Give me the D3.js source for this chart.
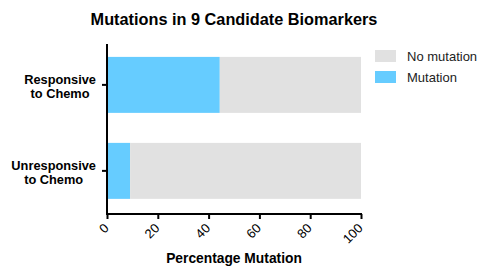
<!DOCTYPE html>
<html>
<head>
<meta charset="utf-8">
<script src="https://cdn.jsdelivr.net/npm/d3@7"></script>
<style>
  body { margin: 0; background: #fff; }
  text { font-family: "Liberation Sans", Arial, sans-serif; }
</style>
</head>
<body>
<div id="chart"></div>
<script>
var groups = ['Responsive to Chemo', 'Unresponsive to Chemo'];
var groupLines = [['Responsive', 'to Chemo'], ['Unresponsive', 'to Chemo']];
var mutation = [44.4, 9.1];
var noMutation = [55.6, 90.9];
var xTicks = [0, 20, 40, 60, 80, 100];
var seriesNames = ['No mutation', 'Mutation'];
var seriesColors = ['#e1e1e1', '#66ccff'];

var svg = d3.select('#chart').append('svg')
    .attr('width', 482)
    .attr('height', 266);

var plotL = 107, plotR = 361, plotT = 44, plotB = 214;

var x = d3.scaleLinear().domain([0, 100]).range([plotL, plotR]);
// bars roughly 57-113 and 143-199
var y = d3.scaleBand().domain(groups).range([plotT, plotB])
    .paddingInner(0.349).paddingOuter(0.163).align(0.46);

// stacked bars: mutation first, then no mutation
svg.selectAll('rect.mut')
    .data(groups)
    .enter().append('rect')
    .attr('x', x(0))
    .attr('y', function(d){ return y(d); })
    .attr('width', function(d, i){ return x(mutation[i]) - x(0); })
    .attr('height', y.bandwidth())
    .attr('fill', seriesColors[1]);

svg.selectAll('rect.nomut')
    .data(groups)
    .enter().append('rect')
    .attr('x', function(d, i){ return x(mutation[i]); })
    .attr('y', function(d){ return y(d); })
    .attr('width', function(d, i){ return x(mutation[i] + noMutation[i]) - x(mutation[i]); })
    .attr('height', y.bandwidth())
    .attr('fill', seriesColors[0]);

// x axis
var xAxis = svg.append('g')
    .attr('transform', 'translate(0,' + plotB + ')')
    .call(d3.axisBottom(x).tickValues(xTicks).tickSize(5).tickSizeOuter(0));
xAxis.select('.domain').attr('stroke-width', 2).attr('d', 'M' + (plotL - 1) + ',0H' + (plotR + 1));
xAxis.selectAll('.tick line').attr('stroke-width', 2);
xAxis.selectAll('.tick text')
    .attr('font-size', 13)
    .attr('font-family', '"Liberation Sans", Arial, sans-serif')
    .attr('fill', '#000')
    .attr('text-anchor', 'end')
    .attr('dy', null)
    .attr('y', 0)
    .attr('transform', 'translate(2,15) rotate(-45)');

// y axis
var yAxis = svg.append('g')
    .attr('transform', 'translate(' + plotL + ',0)')
    .call(d3.axisLeft(y).tickSize(5).tickSizeOuter(0).tickFormat(''));
yAxis.select('.domain').attr('stroke-width', 2).attr('d', 'M0,' + plotT + 'V' + plotB);
yAxis.selectAll('.tick line').attr('stroke-width', 2);

// y labels: block right aligned, lines centred in block
groups.forEach(function(g, i){
    var lines = groupLines[i];
    var cy = y(g) + y.bandwidth() / 2;
    var t = svg.append('g');
    var texts = lines.map(function(s, j){
        return t.append('text')
            .attr('y', cy + 6 + (j - (lines.length - 1) / 2) * 14)
            .attr('font-size', 12.8)
            .attr('font-weight', 'bold')
            .attr('text-anchor', 'middle')
            .text(s);
    });
    var w = d3.max(texts, function(tx){ return tx.node().getComputedTextLength(); });
    texts.forEach(function(tx){ tx.attr('x', 96 - w / 2); });
});

// title
svg.append('text')
    .attr('x', 234).attr('y', 25)
    .attr('text-anchor', 'middle')
    .attr('font-size', 16.3)
    .attr('font-weight', 'bold')
    .text('Mutations in 9 Candidate Biomarkers');

// x label
svg.append('text')
    .attr('x', 234).attr('y', 263)
    .attr('text-anchor', 'middle')
    .attr('font-size', 13.8)
    .attr('font-weight', 'bold')
    .text('Percentage Mutation');

// legend
var legend = svg.selectAll('g.leg')
    .data(seriesNames)
    .enter().append('g')
    .attr('transform', function(d, i){ return 'translate(375,' + (50 + i * 21) + ')'; });
legend.append('rect')
    .attr('width', 21).attr('height', 12)
    .attr('fill', function(d, i){ return seriesColors[i]; });
legend.append('text')
    .attr('x', 32).attr('y', 11)
    .attr('font-size', 13)
    .attr('fill', '#222')
    .text(function(d){ return d; });
</script>
</body>
</html>
